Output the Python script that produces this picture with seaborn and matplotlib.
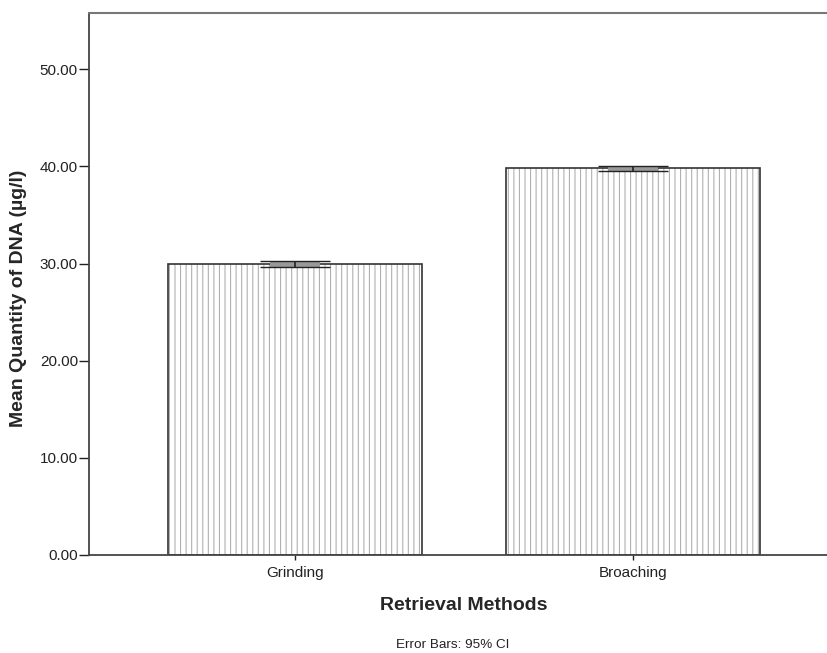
import numpy as np
import pandas as pd
import matplotlib
matplotlib.use('Agg')
import matplotlib.pyplot as plt
import seaborn as sns

methods = ['Grinding', 'Broaching']
mean_dna = [29.95, 39.82]
ci_half = [0.30, 0.25]
yticks = [0, 10, 20, 30, 40, 50]

sns.set_style('white')
plt.rcParams['font.family'] = ['Liberation Sans', 'DejaVu Sans']
plt.rcParams['hatch.linewidth'] = 0.8

df = pd.DataFrame({'method': methods, 'dna': mean_dna, 'ci': ci_half})

fig = plt.figure(figsize=(8.28, 6.53), dpi=100)
ax = fig.add_axes([89/828, 98/653, 1 - 89/828, (555-13)/653])

# hatched fill (hatch takes the edge colour, so draw the outline separately)
sns.barplot(data=df, x='method', y='dna', order=methods, color='white',
            width=0.75, errorbar=None, ax=ax)
for p in ax.patches:
    p.set_hatch('|||')
    p.set_edgecolor('#b0b0b0')
    p.set_linewidth(0)
sns.barplot(data=df, x='method', y='dna', order=methods, color='#333333', fill=False,
            linewidth=1.2, width=0.75, errorbar=None, ax=ax)

# CI drawn as grey band with a centre tick (SPSS style)
for i, (m, c) in enumerate(zip(mean_dna, ci_half)):
    ax.fill_between([i - 0.075, i + 0.075], m - c, m + c, color='#999999', zorder=3, lw=0)
ax.errorbar(range(len(methods)), mean_dna, yerr=ci_half, fmt='none', ecolor='#222222',
            elinewidth=1.2, capsize=25, capthick=1.0, zorder=4)

ax.set_xlim(-0.61, 1.577)
ax.set_ylim(0, 55.8)
ax.set_yticks(yticks)
ax.set_yticklabels([f'{v:.2f}' for v in yticks], fontsize=11)
ax.tick_params(axis='x', labelsize=11, length=3.6, width=1, colors='#222222', direction='out',
               bottom=True, pad=4)
ax.tick_params(axis='y', length=7, width=1, colors='#222222', direction='out', left=True, pad=1)

ax.set_ylabel('Mean Quantity of DNA (µg/l)', fontsize=14, fontweight='bold')
ax.yaxis.set_label_coords(-(89-27)/739, (555-298)/542)
ax.set_xlabel('Retrieval Methods', fontsize=14, fontweight='bold')
ax.xaxis.set_label_coords((464-89)/(828-89), -(597-555)/542)

for s in ['left', 'bottom']:
    ax.spines[s].set_color('#444444')
    ax.spines[s].set_linewidth(1.3)
ax.spines['top'].set_color('#777777')
ax.spines['top'].set_linewidth(1.5)
ax.spines['right'].set_visible(False)

fig.text(453/828, 1 - 645/653, 'Error Bars: 95% CI', ha='center', va='center', fontsize=9.7, color='#222222')

fig.savefig('out.png', dpi=100)
